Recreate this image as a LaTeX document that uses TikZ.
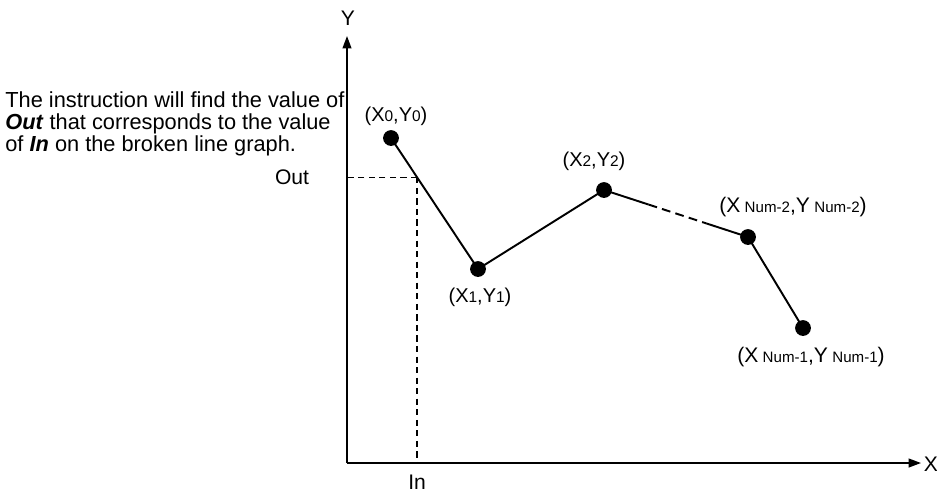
\documentclass[tikz,border=0pt]{standalone}
\usepackage{fontspec}
\setmainfont{Liberation Sans}
\usetikzlibrary{arrows.meta,calc}
\newcommand{\ix}[1]{{\fontsize{8.8}{9}\selectfont #1}}
\newcommand{\nx}[1]{\hspace{2.5pt}{\fontsize{8.6}{9}\selectfont #1}}
\tikzset{
  dot/.style={circle,fill=black,inner sep=0pt,minimum size=9pt},
  lbl/.style={font=\fontsize{11.4}{12}\selectfont,inner sep=0pt},
  big/.style={font=\fontsize{12}{12}\selectfont,inner sep=0pt},
  axisline/.style={line width=0.85pt,-{Triangle[length=7pt,width=5pt]}},
  seg/.style={line width=1.1pt}
}
\begin{document}
\begin{tikzpicture}[x=0.02cm,y=-0.02cm]
    \useasboundingbox (0,0) rectangle (937,491);
    % axes
    \coordinate (o) at (347,463);
    \coordinate (ytip) at (347,36);
    \coordinate (xtip) at (921,463);
    \draw[axisline] (o) -- (ytip);
    \draw[axisline] (o) -- (xtip);
    \node[big] (ylab) at (348,18) {Y};
    \node[big] (xlab) at (931,464) {X};
    % points
    \node[dot] (p0) at (391,138) {};
    \node[dot] (p1) at (478,269) {};
    \node[dot] (p2) at (604,190) {};
    \node[dot] (p3) at (748,237) {};
    \node[dot] (p4) at (803,328) {};
    \draw[seg] (p0.center) -- (p1.center) -- (p2.center);
    \draw[seg] (p2.center) -- ($(p2)!0.31!(p3)$);
    \draw[seg,dash pattern=on 5pt off 3pt] ($(p2)!0.31!(p3)$) -- ($(p2)!0.71!(p3)$);
    \draw[seg] ($(p2)!0.71!(p3)$) -- (p3.center) -- (p4.center);
    \node[lbl] (l0) at (396,116) {(X\ix{0},Y\ix{0})};
    \node[lbl] (l1) at (480,297) {(X\ix{1},Y\ix{1})};
    \node[lbl] (l2) at (594,161) {(X\ix{2},Y\ix{2})};
    \node[big] (l3) at (793,207) {(X\nx{Num-2},Y\nx{Num-2})};
    \node[big] (l4) at (811,357) {(X\nx{Num-1},Y\nx{Num-1})};
    % in / out
    \coordinate (hit) at ($(p0)!0.3!(p1)$);
    \draw[line width=0.8pt,dash pattern=on 3.5pt off 2.5pt] (hit) -- (hit -| o);
    \draw[line width=0.8pt,dash pattern=on 3.5pt off 2.5pt] (hit) -- (hit |- o);
    \node[big] (outlab) at (292,177) {Out};
    \node[big] (inlab) at ($(hit |- o)+(0,19)$) {In};
    % note
    \node[anchor=base west,align=left,inner sep=0pt,font=\fontsize{12.4}{12.5}\selectfont] (note) at (5,151)
      {The instruction will find the value of\\
       \textbf{\textit{Out}} that corresponds to the value\\
       of \textbf{\textit{In}} on the broken line graph.};
\end{tikzpicture}
\end{document}
